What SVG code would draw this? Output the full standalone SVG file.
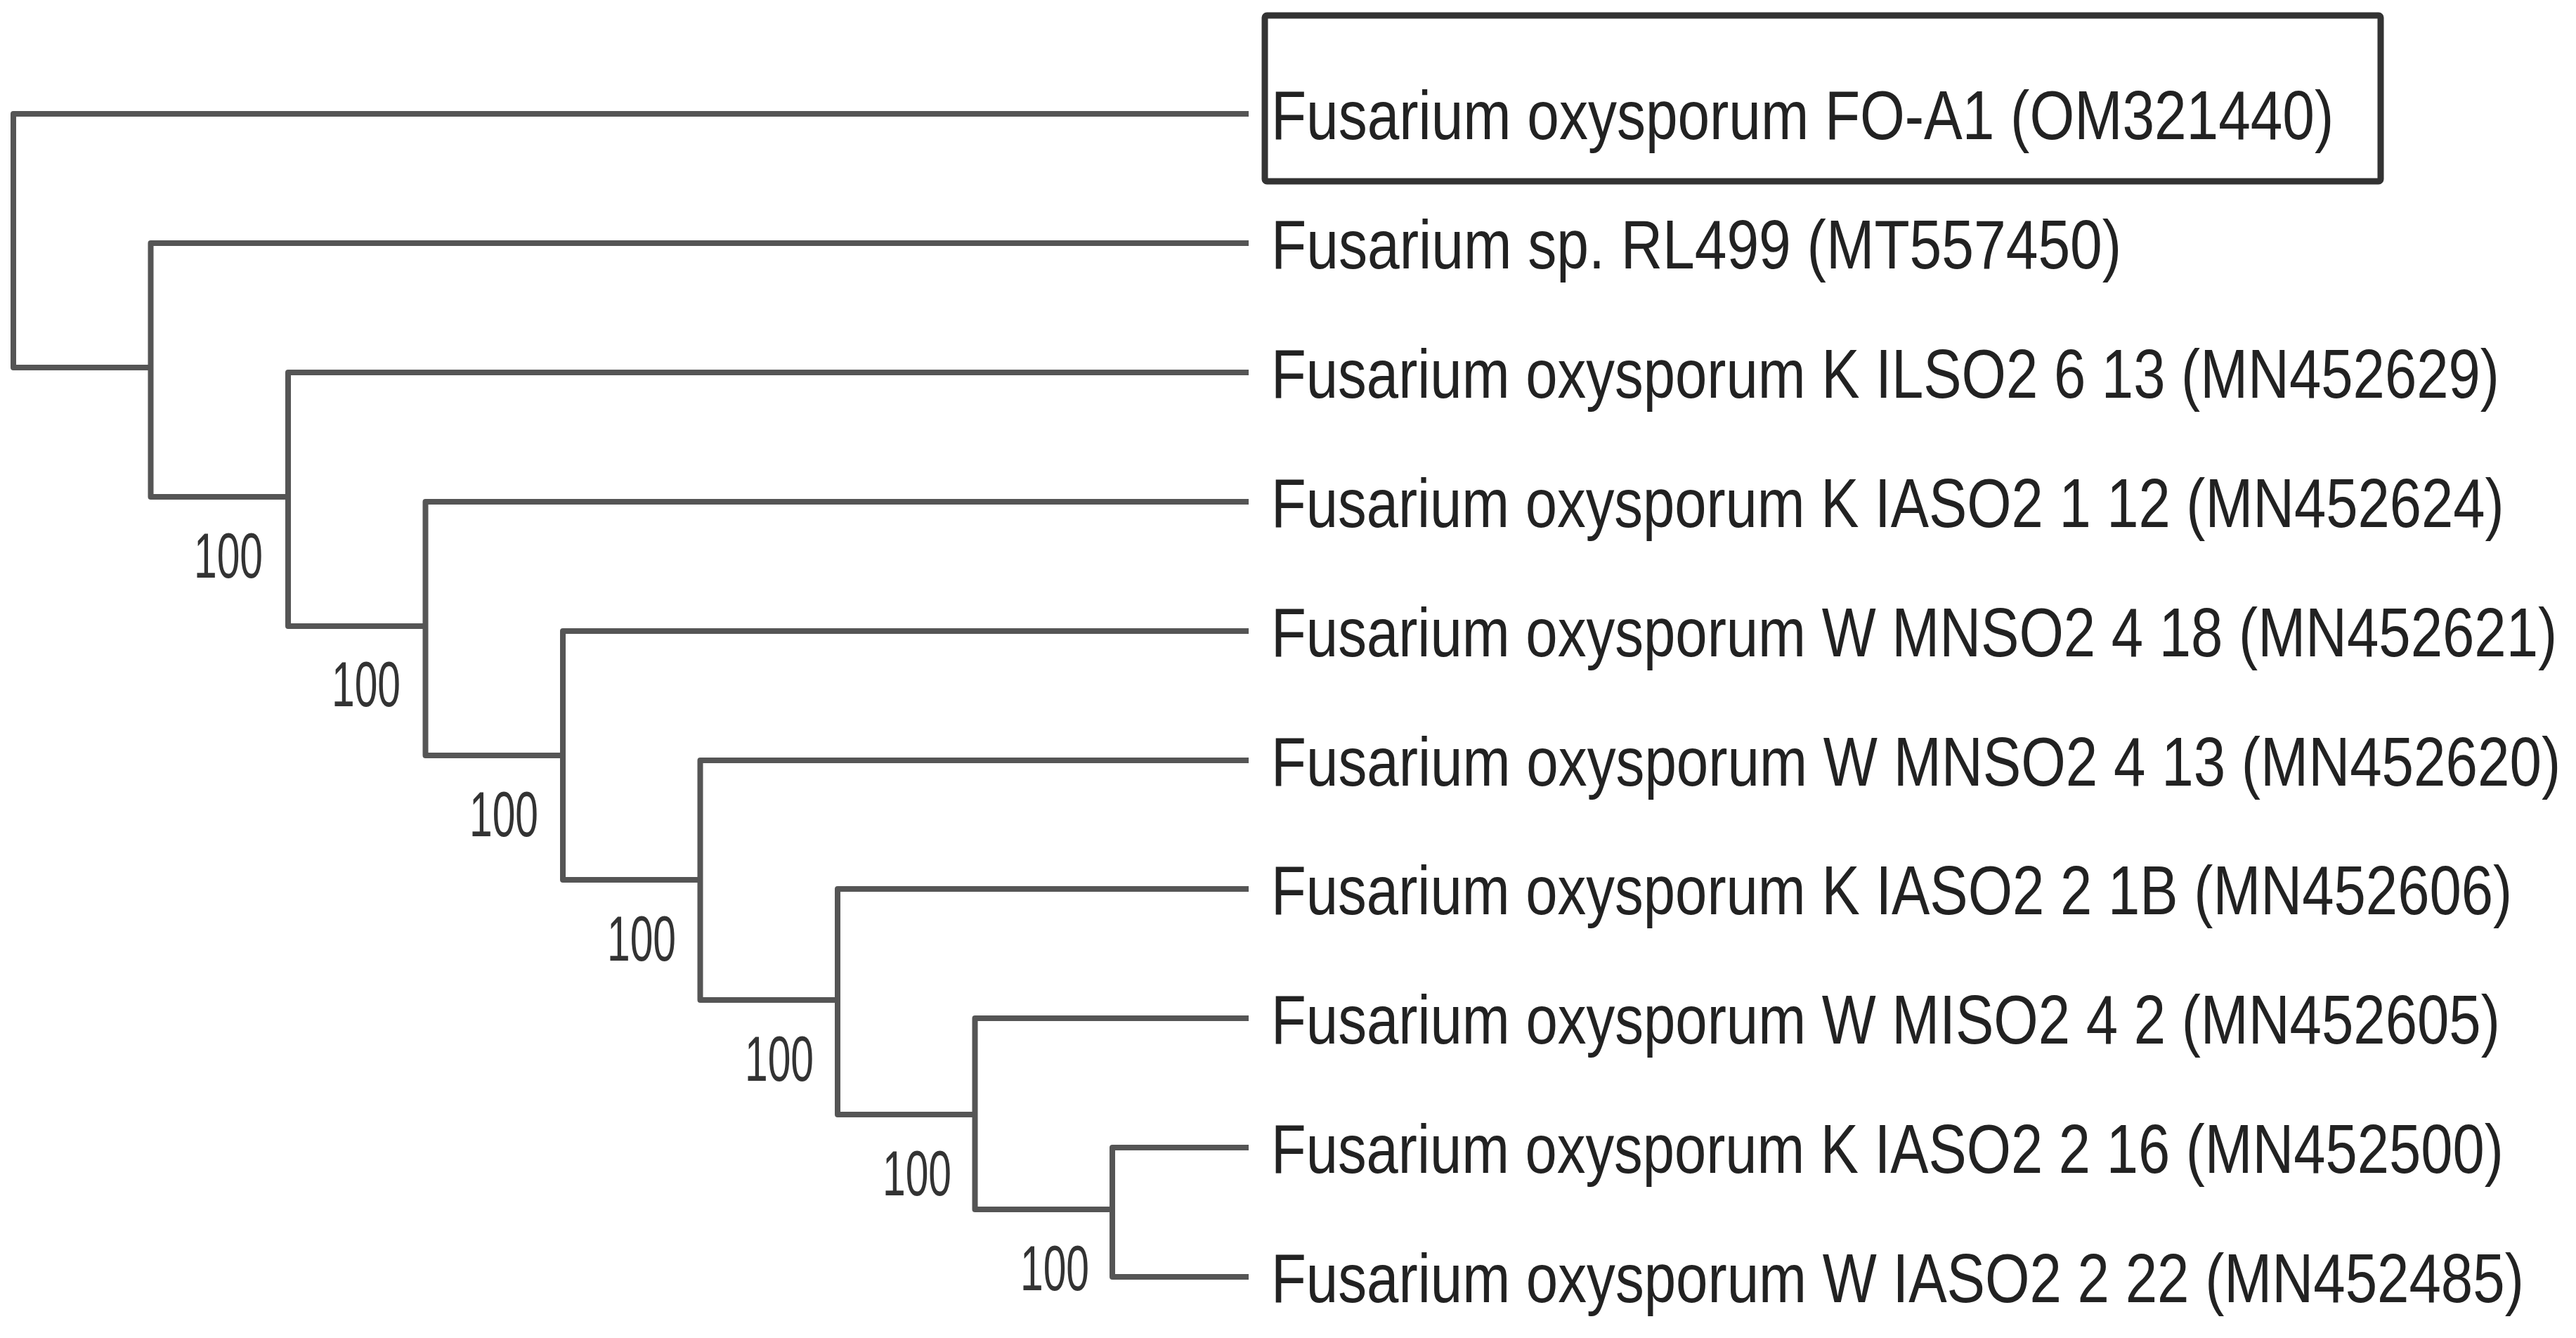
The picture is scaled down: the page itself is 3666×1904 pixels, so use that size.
<svg xmlns="http://www.w3.org/2000/svg" width="3666" height="1904" viewBox="0 0 3666 1904">
<style>
.br{fill:none;stroke:#555;stroke-width:8;stroke-linejoin:round;stroke-linecap:butt}
.lf{font-family:"Liberation Sans",Arial,sans-serif;font-size:99px;fill:#222}
.bs{font-family:"Liberation Sans",Arial,sans-serif;font-size:91px;fill:#333}
.hl{fill:none;stroke:#333;stroke-width:9}
</style>
<rect width="3666" height="1904" fill="#fff"/>
<g id="connectors">
<path class="br" d="M1777 162 H19 V523 H214.5"/>
<path class="br" d="M1777 346 H214.5 V707 H410"/>
<path class="br" d="M1777 530 H410 V891 H605.5"/>
<path class="br" d="M1777 714 H605.5 V1075 H801"/>
<path class="br" d="M1777 898 H801 V1252 H996.5"/>
<path class="br" d="M1777 1082 H996.5 V1423 H1192"/>
<path class="br" d="M1777 1265 H1192 V1586 H1387.5"/>
<path class="br" d="M1777 1449 H1387.5 V1721 H1583"/>
<path class="br" d="M1777 1633 H1583 V1817 H1777"/>
</g>
<g id="leaf1">
<rect class="hl" x="1800" y="22" width="1588" height="236" rx="3"/>
<text class="lf" transform="translate(1809 198) scale(0.83 1)" textLength="1822" lengthAdjust="spacingAndGlyphs">Fusarium oxysporum FO-A1 (OM321440)</text>
</g>
<g id="leaf2"><text class="lf" transform="translate(1809 382) scale(0.83 1)" textLength="1458" lengthAdjust="spacingAndGlyphs">Fusarium sp. RL499 (MT557450)</text></g>
<g id="leaf3"><text class="lf" transform="translate(1809 566) scale(0.83 1)" textLength="2106" lengthAdjust="spacingAndGlyphs">Fusarium oxysporum K ILSO2 6 13 (MN452629)</text></g>
<g id="leaf4"><text class="lf" transform="translate(1809 750) scale(0.83 1)" textLength="2114" lengthAdjust="spacingAndGlyphs">Fusarium oxysporum K IASO2 1 12 (MN452624)</text></g>
<g id="leaf5"><text class="lf" transform="translate(1809 934) scale(0.83 1)" textLength="2205" lengthAdjust="spacingAndGlyphs">Fusarium oxysporum W MNSO2 4 18 (MN452621)</text></g>
<g id="leaf6"><text class="lf" transform="translate(1809 1118) scale(0.83 1)" textLength="2211" lengthAdjust="spacingAndGlyphs">Fusarium oxysporum W MNSO2 4 13 (MN452620)</text></g>
<g id="leaf7"><text class="lf" transform="translate(1809 1301) scale(0.83 1)" textLength="2128" lengthAdjust="spacingAndGlyphs">Fusarium oxysporum K IASO2 2 1B (MN452606)</text></g>
<g id="leaf8"><text class="lf" transform="translate(1809 1485) scale(0.83 1)" textLength="2107" lengthAdjust="spacingAndGlyphs">Fusarium oxysporum W MISO2 4 2 (MN452605)</text></g>
<g id="leaf9"><text class="lf" transform="translate(1809 1669) scale(0.83 1)" textLength="2113" lengthAdjust="spacingAndGlyphs">Fusarium oxysporum K IASO2 2 16 (MN452500)</text></g>
<g id="leaf10"><text class="lf" transform="translate(1809 1853) scale(0.83 1)" textLength="2148" lengthAdjust="spacingAndGlyphs">Fusarium oxysporum W IASO2 2 22 (MN452485)</text></g>
<g id="node3"><text class="bs" transform="translate(276 822) scale(0.645 1)" textLength="152" lengthAdjust="spacingAndGlyphs">100</text></g>
<g id="node4"><text class="bs" transform="translate(472 1005) scale(0.645 1)" textLength="152" lengthAdjust="spacingAndGlyphs">100</text></g>
<g id="node5"><text class="bs" transform="translate(668 1190) scale(0.645 1)" textLength="152" lengthAdjust="spacingAndGlyphs">100</text></g>
<g id="node6"><text class="bs" transform="translate(864 1367) scale(0.645 1)" textLength="152" lengthAdjust="spacingAndGlyphs">100</text></g>
<g id="node7"><text class="bs" transform="translate(1060 1538) scale(0.645 1)" textLength="152" lengthAdjust="spacingAndGlyphs">100</text></g>
<g id="node8"><text class="bs" transform="translate(1256 1701) scale(0.645 1)" textLength="152" lengthAdjust="spacingAndGlyphs">100</text></g>
<g id="node9"><text class="bs" transform="translate(1452 1836) scale(0.645 1)" textLength="152" lengthAdjust="spacingAndGlyphs">100</text></g>
</svg>
